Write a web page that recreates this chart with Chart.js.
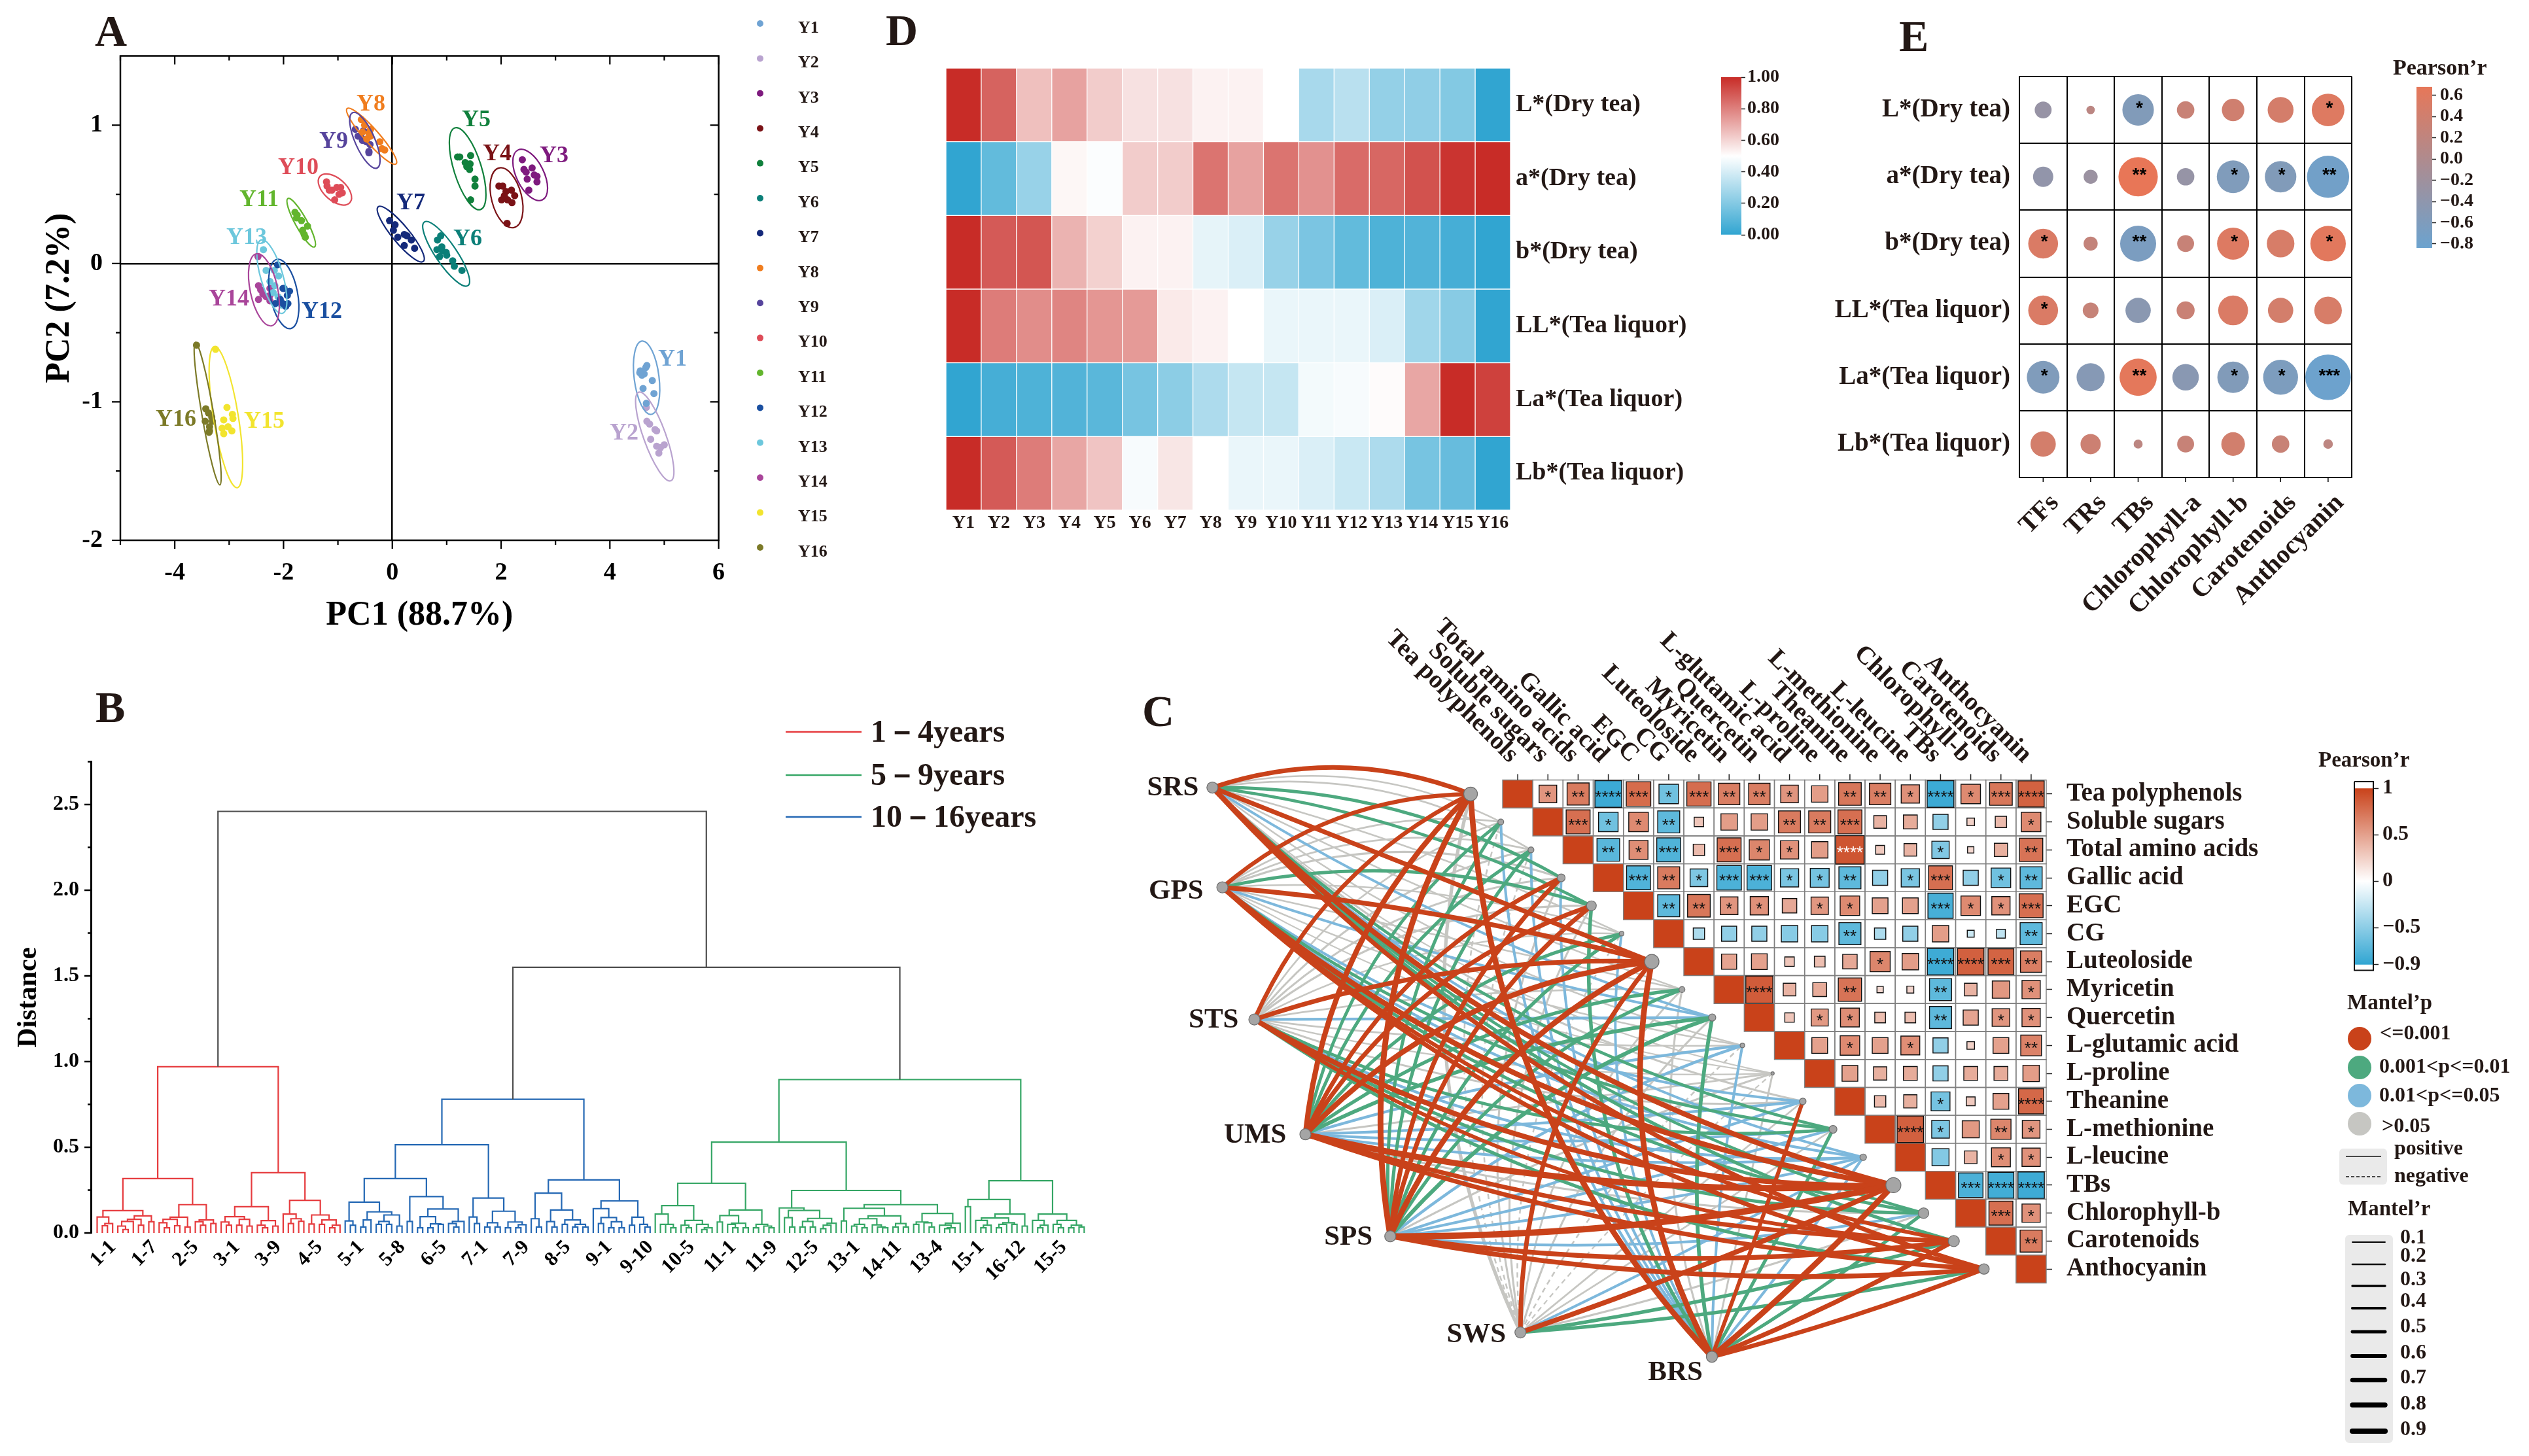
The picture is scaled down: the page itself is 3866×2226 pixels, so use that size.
<!DOCTYPE html>
<html><head><meta charset="utf-8">
<style>html,body{margin:0;background:#fff;width:3866px;height:2226px;overflow:hidden;position:relative}canvas{position:absolute}</style>
<script src="https://cdn.jsdelivr.net/npm/chart.js@4"></script>
</head><body>
<script>
/* ---------- Panel A data (PC1, PC2) ---------- */
const groupNames=['Y1','Y2','Y3','Y4','Y5','Y6','Y7','Y8','Y9','Y10','Y11','Y12','Y13','Y14','Y15','Y16'];
const Y1pts=[[4.56,-.776],[4.66,-.752],[4.68,-.737],[4.63,-.798],[4.59,-.807],[4.55,-.789],[4.78,-.846],[4.61,-.903],[4.81,-.94],[4.67,-1.01]];
const Y2pts=[[4.68,-1.14],[4.73,-1.16],[4.83,-1.2],[4.86,-1.21],[4.75,-1.27],[4.86,-1.32],[4.93,-1.33],[5,-1.31],[4.9,-1.37],[4.67,-1.04]];
const Y3pts=[[2.39,.75],[2.42,.68],[2.46,.66],[2.57,.69],[2.66,.63],[2.61,.64],[2.48,.61],[2.66,.59],[2.51,.53]];
const Y4pts=[[1.96,.56],[2.03,.56],[2.09,.52],[2.19,.53],[2.25,.49],[2.01,.46],[2.12,.46],[2.2,.44],[2.11,.29],[2.06,.49]];
const Y5pts=[[1.2,.77],[1.24,.77],[1.44,.78],[1.34,.73],[1.43,.72],[1.37,.7],[1.42,.68],[1.52,.61],[1.52,.56],[1.44,.46]];
const Y6pts=[[.89,.2],[.83,.17],[.91,.12],[.82,.1],[.92,.09],[.99,.08],[.87,.05],[1,.06],[1.11,.02],[1.14,-.02],[1.28,-.05]];
const Y7pts=[[-.05,.31],[.05,.28],[.02,.24],[.1,.19],[.22,.21],[.27,.2],[.35,.17],[.22,.13],[.41,.11]];
const Y8pts=[[-.57,1.04],[-.51,1],[-.55,.95],[-.43,.94],[-.4,.92],[-.47,.9],[-.23,.88],[-.19,.83],[-.14,.82],[-.4,.97]];
const Y9pts=[[-.68,.97],[-.53,.96],[-.43,.95],[-.58,.92],[-.55,.89],[-.48,.88],[-.41,.86],[-.43,.81],[-.43,.8],[-.63,.92]];
const Y10pts=[[-1.21,.59],[-1.2,.56],[-1.16,.53],[-1.02,.55],[-.95,.55],[-.92,.51],[-.98,.5],[-1.06,.46],[-1.11,.53]];
const Y11pts=[[-1.79,.37],[-1.75,.35],[-1.76,.33],[-1.67,.31],[-1.56,.27],[-1.65,.24],[-1.62,.21],[-1.6,.19]];
const Y12pts=[[-2.11,-.01],[-2.01,-.18],[-1.99,-.18],[-1.89,-.2],[-1.93,-.23],[-2.06,-.26],[-2.15,-.29],[-2.01,-.29],[-1.92,-.29],[-1.96,-.31]];
const Y13pts=[[-2.37,.1],[-2.32,-.05],[-2.17,-.05],[-2.09,-.09],[-2.25,-.13],[-2.16,-.16],[-2.19,-.21],[-2.04,-.3],[-2.1,-.24]];
const Y14pts=[[-2.47,.05],[-2.46,-.16],[-2.42,-.19],[-2.38,-.22],[-2.25,-.18],[-2.25,-.23],[-2.46,-.26],[-2.25,-.27],[-2.32,-.24]];
const Y15pts=[[-3.25,-.62],[-3.04,-1.04],[-3.1,-1.13],[-2.94,-1.09],[-2.93,-1.12],[-3.13,-1.19],[-3.02,-1.18],[-2.95,-1.21],[-3.1,-1.23]];
const Y16pts=[[-3.6,-.59],[-3.43,-1.05],[-3.38,-1.08],[-3.32,-1.11],[-3.44,-1.14],[-3.31,-1.14],[-3.36,-1.18],[-3.37,-1.22],[-3.36,-1.21]];
const groupPoints=[Y1pts,Y2pts,Y3pts,Y4pts,Y5pts,Y6pts,Y7pts,Y8pts,Y9pts,Y10pts,Y11pts,Y12pts,Y13pts,Y14pts,Y15pts,Y16pts];
/* confidence ellipses: major-axis end points in data units */
const ellipseAxes=[[4.59,-.56,4.76,-1.09],[4.53,-.93,5.12,-1.57],[2.31,.82,2.76,.46],[1.96,.69,2.24,.26],[1.15,.98,1.62,.39],[.59,.3,1.39,-.16],[-.26,.41,.57,.015],[-.83,1.12,.07,.72],[-.73,1.09,-.28,.69],[-1.33,.63,-.78,.44],[-1.92,.47,-1.43,.12],[-2.12,.03,-1.87,-.47],[-2.41,.17,-2.02,-.36],[-2.5,.07,-2.22,-.45],[-3.27,-.6,-2.85,-1.62],[-3.62,-.57,-3.17,-1.6]];

/* ---------- Panel B data: merge tree [height,left,right], numbers are leaves ---------- */
const redTree=[.97,[.317,[.13,[.093,0,[.055,[.042,1,2],3]],[.10,[.08,[.067,[.04,4,[.02,5,6]],7],[.045,8,9]],[.065,10,11]]],[.165,[.092,[.08,[.06,12,[.03,13,14]],[.042,15,16]],[.035,17,18]],[.076,[.065,19,[.045,20,21]],[.055,22,23]]]],[.352,[.153,[.095,[.064,24,[.045,25,26]],[.08,[.045,27,28],[.04,29,30]]],[.072,[.045,31,[.03,32,33]],[.04,34,35]]],[.19,[.11,36,[.083,[.055,37,38],[.068,39,40]]],[.105,[.052,41,42],[.076,[.05,43,44],[.045,[.03,45,46],47]]]]]];
const blueTree=[.78,[.515,[.317,[.18,[.07,48,[.045,49,50]],[.123,[.076,[.035,51,52],53],[.105,[.067,[.05,54,55],[.05,56,57]],[.04,58,59]]]],[.212,[.067,60,61],[.14,[.095,[.03,62,63],[.053,[.03,64,65],[.05,66,67]]],[.067,[.055,68,[.035,69,70]],71]]]],[.204,[.093,72,[.055,73,74]],[.127,[.06,[.035,75,76],[.035,77,78]],[.064,[.03,79,80],[.048,[.03,81,82],83]]]]],[.31,[.232,[.083,84,[.035,85,86]],[.134,[.066,87,[.035,88,89]],[.076,[.05,90,91],[.05,[.035,92,93],[.035,94,95]]]]],[.187,[.142,96,[.09,[.055,97,98],[.065,[.03,99,100],[.03,101,102]]]],[.092,[.045,103,104],[.05,105,[.035,106,107]]]]]];
const greenTree=[.895,[.53,[.29,[.16,[.11,108,[.05,[.05,109,110],[.03,111,112]]],[.073,[.045,113,[.03,114,115]],[.05,116,[.03,[.02,117,118],119]]]],[.134,[.102,[.064,120,121],[.057,[.05,122,[.03,123,124]],[.03,125,126]]],[.05,[.03,127,128],[.04,129,[.03,130,131]]]]],[.248,[.146,132,[.131,[.089,133,[.035,134,135]],[.085,[.067,[.035,136,137],[.035,138,139]],[.057,[.045,[.025,140,141],142],143]]]],[.165,[.144,[.07,144,145],[.1,[.083,[.05,[.04,146,147],[.03,148,149]],[.047,150,[.035,151,[.03,152,153]]]],[.055,[.035,154,155],[.035,156,157]]]],[.114,[.064,[.05,158,159],[.06,160,[.035,161,162]]],[.057,[.045,163,[.03,[.025,164,165],166]],167]]]]],[.305,[.195,[.153,168,169],[.11,[.087,[.073,170,[.045,[.03,171,172],173]],[.06,[.05,[.03,174,175],176],[.05,177,178]]],[.04,179,180]]],[.11,[.073,181,[.045,[.03,182,183],184]],[.073,[.05,185,[.03,186,187]],[.045,[.03,188,189],[.035,190,191]]]]]];
const upperHeights=[2.46,1.55];
const dendroLabels=['1-1','1-7','2-5','3-1','3-9','4-5','5-1','5-8','6-5','7-1','7-9','8-5','9-1','9-10','10-5','11-1','11-9','12-5','13-1','14-11','13-4','15-1','16-12','15-5'];

/* ---------- Panel D data ---------- */
const traitLabels=['L*(Dry tea)','a*(Dry tea)','b*(Dry tea)','LL*(Tea liquor)','La*(Tea liquor)','Lb*(Tea liquor)'];
const heatL=[1,.87,.65,.72,.62,.57,.57,.53,.53,.5,.29,.33,.24,.23,.2,0];
const heatA=[0,.12,.25,.52,.49,.62,.62,.83,.72,.83,.76,.85,.86,.91,.98,1];
const heatB=[1,.89,.9,.68,.61,.53,.53,.44,.41,.25,.18,.12,.07,.08,.05,0];
const heatLL=[1,.81,.77,.79,.75,.74,.55,.53,.5,.45,.45,.45,.41,.27,.21,0];
const heatLa=[0,.05,.07,.08,.1,.17,.22,.3,.36,.36,.47,.48,.51,.71,1,.95];
const heatLb=[1,.89,.81,.71,.64,.48,.56,.5,.45,.45,.41,.37,.3,.17,.13,0];
const heatRows=[heatL,heatA,heatB,heatLL,heatLa,heatLb];

/* ---------- Panel E data ---------- */
const pigmentLabels=['TFs','TRs','TBs','Chlorophyll-a','Chlorophyll-b','Carotenoids','Anthocyanin'];
const corrL=[-.3,.15,-.56,.31,.4,.46,.58];
const corrA=[-.36,-.25,.7,-.31,-.58,-.56,-.75];
const corrB=[.53,.25,-.64,.3,.57,.49,.63];
const corrLL=[.53,.28,-.45,.32,.53,.45,.49];
const corrLa=[-.58,-.5,.66,-.47,-.56,-.62,-.81];
const corrLb=[.45,.36,.16,.3,.42,.31,.17];
const corrRows=[corrL,corrA,corrB,corrLL,corrLa,corrLb];
const corrStars=[[0,0,1,0,0,0,1],[0,0,2,0,1,1,2],[1,0,2,0,1,0,1],[1,0,0,0,0,0,0],[1,0,2,0,1,1,3],[0,0,0,0,0,0,0]];

/* ---------- Panel C data ---------- */
const metaboliteLabels=['Tea polyphenols','Soluble sugars','Total amino acids','Gallic acid','EGC','CG','Luteoloside','Myricetin','Quercetin','L-glutamic acid','L-proline','Theanine','L-methionine','L-leucine','TBs','Chlorophyll-b','Carotenoids','Anthocyanin'];
const pearsonRows=[[.56,.7,-.85,.78,-.62,.77,.68,.68,.56,.52,.72,.68,.58,-.85,.62,.72,.83],[.76,-.62,.62,-.7,.3,.52,.52,.7,.7,.76,.4,.44,-.48,.24,.36,.62],[-.72,.6,-.76,.36,.76,.64,.58,.52,.9,.28,.4,-.55,.2,.42,.74],[-.76,.7,-.56,-.78,-.78,-.58,-.6,-.7,-.48,-.58,.76,-.48,-.62,-.7],[-.7,.72,.56,.58,.46,.55,.62,.5,.5,-.8,.62,.58,.76],[-.36,-.48,-.48,-.52,-.52,-.7,-.36,-.48,.52,-.22,-.28,-.7],[.48,.5,.3,.34,.46,.64,.52,-.84,.84,.82,.68],[.86,.4,.44,.74,.2,.22,-.7,.4,.55,.58],[.3,.54,.6,.34,.34,-.7,.48,.56,.58],[.5,.62,.5,.6,-.48,.24,.5,.66],[.5,.42,.44,-.48,.44,.44,.52],[.36,.42,-.6,.28,.5,.8],[.84,-.56,.54,.64,.56],[-.54,.4,.6,.58],[-.78,-.82,-.84],[.76,.58],[.7]];
const pearsonStars=[[1,2,4,3,1,3,2,2,1,0,2,2,1,4,1,3,4],[3,1,1,2,0,0,0,2,2,3,0,0,0,0,0,1],[2,1,3,0,3,1,1,0,4,0,0,1,0,0,2],[3,2,1,3,3,1,1,2,0,1,3,0,1,2],[2,2,1,1,0,1,1,0,0,3,1,1,3],[0,0,0,0,0,2,0,0,0,0,0,2],[0,0,0,0,0,1,0,4,4,3,2],[4,0,0,2,0,0,2,0,0,1],[0,1,1,0,0,2,0,1,1],[0,1,0,1,0,0,0,2],[0,0,0,0,0,0,0],[0,0,1,0,0,4],[4,1,0,2,1],[0,0,1,1],[3,4,4],[3,1],[2]];
const envNames=['SRS','GPS','STS','UMS','SPS','SWS','BRS'];
/* Mantel p class: 0 <=0.001, 1 <=0.01, 2 <=0.05, 3 >0.05 */
const mantelClass=[
[0,3,3,1,1,3,0,3,2,3,3,3,1,2,0,1,1,0],
[0,3,3,3,1,3,0,3,2,3,3,2,1,2,0,1,0,0],
[0,3,3,3,3,3,0,3,2,3,3,3,1,2,0,1,0,1],
[0,1,1,0,0,1,0,1,1,2,3,2,2,2,0,3,0,0],
[0,1,1,0,0,1,0,1,1,2,3,2,2,2,0,2,0,0],
[3,3,3,3,3,3,0,3,3,3,3,3,3,2,0,3,1,1],
[0,2,2,2,1,2,0,3,1,2,3,0,1,2,0,1,0,0]];
const mantelR=[
[.62,.15,.18,.38,.36,.14,.62,.14,.28,.13,.11,.2,.36,.28,.7,.35,.42,.6],
[.55,.16,.18,.22,.4,.14,.65,.14,.28,.14,.1,.3,.36,.3,.72,.38,.5,.6],
[.55,.15,.2,.2,.22,.14,.62,.15,.3,.14,.1,.18,.38,.3,.68,.38,.5,.42],
[.72,.38,.4,.58,.6,.42,.72,.42,.5,.33,.18,.32,.3,.28,.85,.2,.6,.6],
[.8,.4,.42,.6,.6,.42,.75,.42,.52,.33,.2,.32,.3,.3,.88,.3,.65,.65],
[.42,.14,.14,.2,.2,.13,.6,.18,.2,.14,.1,.16,.16,.3,.66,.2,.45,.45],
[.78,.3,.3,.3,.45,.28,.78,.2,.48,.3,.18,.5,.42,.3,.8,.42,.62,.6]];
const mantelNegativeSWS=[1,2,5,9,10];
const mantelRLegend=[.1,.2,.3,.4,.5,.6,.7,.8,.9];

/* ---------- styles and layout ---------- */
const SERIF='"Liberation Serif"', INK='#231815';
const groupColors=['#6FA3D3','#B9A3CF','#7E1A7E','#7A1216','#10803C','#0B7F78','#14297A','#F07D1E','#56449C','#DE4C58','#62B52D','#1A4FA0','#6CC7DC','#A9459A','#F2E42E','#7C7A28'];
const ellipseHalfWidths=[19,17,21,23,21,16,13,11,15,17,9,21,17,21,19,9];
const groupLabelAt=[[1028,550],[954,663],[847,239],[760,236],[728,184],[715,366],[628,311],[567,160],[510,217],[456,257],[396,306],[492,477],[377,364],[350,458],[404,645],[269,642]];
const envAnchor=[[-10.11,-.23],[-9.78,3.34],[-8.72,8.07],[-7.03,12.18],[-4.22,15.83],[.09,19.27],[6.43,20.14]];
const envLabelOffset=[[-21,1],[-29,6],[-24,1],[-29,2],[-27,2],[-22,4],[-14,25]];
const envFanMiddle=[6,7,8,10,11,11,10];
const envRightBend=[.14,.14,.14,.07,.07,.03,.03];
const diagNodeRadius=[10.5,4.5,4.5,6,7.5,3.5,11,4.5,5.5,3.5,2.5,5,6,5,11.5,8,8.5,8];
const mantelColors=['#C9421A','#4DA97F','#7DB8DC','#C6C6C2'];
const HEAT_BLUE=[49,165,209],HEAT_RED=[200,44,39];
const COR_BLUE=[107,163,207],COR_RED=[230,119,89];
const PEAR_BLUE=[48,165,210],PEAR_RED=[201,66,26],WHITE=[255,255,255];
const mix=(a,b,t)=>`rgb(${a.map((v,i)=>Math.round(v+(b[i]-v)*t)).join(',')})`;
const heatColor=v=>v>=.5?mix(WHITE,HEAT_RED,(v-.5)/.5):mix(WHITE,HEAT_BLUE,(.5-v)/.5);
const corColor=v=>mix(COR_BLUE,COR_RED,(v+.837)/1.517);
const pearColor=v=>v>=0?mix(WHITE,PEAR_RED,v):mix(WHITE,PEAR_BLUE,-v/.9);

Chart.defaults.font.family=SERIF;Chart.defaults.font.weight='bold';Chart.defaults.color=INK;

function padFor(box,plot,axes){axes=axes||{};return{left:plot.l-box.x-(axes.left||0),right:box.x+box.w-plot.r-(axes.right||0),top:plot.t-box.y-(axes.top||0),bottom:box.y+box.h-plot.b-(axes.bottom||0)};}
const fitW=w=>s=>{s.width=w;},fitH=h=>s=>{s.height=h;};
let pluginSeq=0;
function label(g,t,x,y,size,o){o=o||{};g.save();g.font=`bold ${size}px ${SERIF}`;g.fillStyle=o.color||INK;g.textAlign=o.align||'left';g.textBaseline=o.base||'middle';g.translate(x,y);if(o.rot)g.rotate(o.rot);g.fillText(t,0,0);g.restore();}
function stroke(g,c,w,f){g.save();g.strokeStyle=c;g.lineWidth=w;g.beginPath();f();g.stroke();g.restore();}
function mount(box,config,after,before){
  const c=document.createElement('canvas');c.width=box.w;c.height=box.h;c.style.left=box.x+'px';c.style.top=box.y+'px';c.style.width=box.w+'px';c.style.height=box.h+'px';document.body.appendChild(c);
  config.options=Object.assign({responsive:false,animation:false,devicePixelRatio:1,events:[]},config.options);
  config.options.plugins=Object.assign({legend:{display:false},tooltip:{enabled:false}},config.options.plugins);
  config.plugins=[{id:'panel'+(pluginSeq++),beforeDatasetsDraw(ch){if(before){ch.ctx.save();ch.ctx.translate(-box.x,-box.y);before(ch,ch.ctx);ch.ctx.restore();}},afterDraw(ch){if(after){ch.ctx.save();ch.ctx.translate(-box.x,-box.y);after(ch,ch.ctx,box);ch.ctx.restore();}}}];
  return new Chart(c,config);
}
function scaleX(ch,box,v){return ch.scales.x.getPixelForValue(v)+box.x;}
function scaleY(ch,box,v,id){return ch.scales[id||'y'].getPixelForValue(v)+box.y;}
function colorbar(box,plot,min,max,ticks,fmt,stops,size,tickLen,pad,framed){
  const rw=box.x+box.w-plot.r;
  mount(box,{type:'bar',data:{labels:[''],datasets:[{data:[[min,max]],barPercentage:1,categoryPercentage:1,borderWidth:0,
    backgroundColor(ctx){const a=ctx.chart.chartArea;if(!a)return '#ccc';const g=ctx.chart.ctx.createLinearGradient(0,a.bottom,0,a.top);stops.forEach(s=>g.addColorStop(s[0],s[1]));return g;}}]},
    options:{layout:{padding:padFor(box,plot,{right:rw-2})},scales:{x:{display:false},y:{position:'right',min,max,afterFit:fitW(rw-2),afterBuildTicks(s){s.ticks=ticks.map(v=>({value:v}));},
      ticks:{callback:fmt,font:{size},padding:pad,autoSkip:false,color:INK},grid:{drawOnChartArea:false,tickLength:tickLen,tickColor:'#222',tickWidth:1.5},border:{display:false}}}}},
    framed?(ch,g)=>stroke(g,'#111',2,()=>{g.moveTo(plot.l,plot.t);g.lineTo(plot.l,plot.b);g.lineTo(plot.r,plot.b);g.lineTo(plot.r,plot.t);g.lineTo(plot.l,plot.t);}):null);
}

/* ---------- Panel A ---------- */
(function(){
  const box={x:0,y:0,w:1320,h:1000},plot={l:184,r:1098.6,t:85.5,b:826};
  mount(box,{type:'scatter',data:{datasets:groupPoints.map((p,i)=>({label:groupNames[i],data:p.map(q=>({x:q[0],y:q[1]})),backgroundColor:groupColors[i],pointRadius:5.5,borderWidth:0}))},
    options:{layout:{padding:padFor(box,plot,{left:124,bottom:151})},scales:{
      x:{min:-5,max:6,afterFit:fitH(151),afterBuildTicks(s){const t=[];for(let v=-5;v<=6;v++)t.push({value:v});s.ticks=t;},
         ticks:{autoSkip:false,maxRotation:0,callback:v=>(v%2===0?String(v):''),font:{size:38},color:'#000',padding:14},
         grid:{color:c=>c.tick&&c.tick.value===0?'#000':'transparent',lineWidth:2.5,tickLength:13,tickColor:'transparent'},border:{display:false},
         title:{display:true,text:'PC1 (88.7%)',font:{size:52},color:'#000',padding:{top:0,bottom:4}}},
      y:{min:-2,max:1.5,afterFit:fitW(124),afterBuildTicks(s){const t=[];for(let i=0;i<7;i++)t.push({value:-2+i*.5});s.ticks=t;},
         ticks:{autoSkip:false,callback:v=>(v===1.5?'':Number.isInteger(v)?String(v):''),font:{size:38},color:'#000',padding:14},
         grid:{color:c=>c.tick&&c.tick.value===0?'#000':'transparent',lineWidth:2.5,tickLength:13,tickColor:'transparent'},border:{display:false},
         title:{display:true,text:'PC2 (7.2%)',font:{size:52},color:'#000',padding:{top:0,bottom:0}}}}}},
  (ch,g,b)=>{
    const X=v=>scaleX(ch,b,v),Y=v=>scaleY(ch,b,v),a=ch.chartArea,l=a.left,r=a.right,t=a.top,bt=a.bottom;
    ellipseAxes.forEach((e,i)=>{const x1=X(e[0]),y1=Y(e[1]),x2=X(e[2]),y2=Y(e[3]);stroke(g,groupColors[i],2.2,()=>g.ellipse((x1+x2)/2,(y1+y2)/2,Math.hypot(x2-x1,y2-y1)/2,ellipseHalfWidths[i],Math.atan2(y2-y1,x2-x1),0,Math.PI*2));
      label(g,groupNames[i],groupLabelAt[i][0],groupLabelAt[i][1],36,{color:groupColors[i],align:'center'});});
    stroke(g,'#000',2.5,()=>g.rect(l,t,r-l,bt-t));
    stroke(g,'#000',2.2,()=>{for(let v=-5;v<=6;v++){const x=X(v),n=v%2===0?13:7;g.moveTo(x,bt);g.lineTo(x,bt+n);g.moveTo(x,t);g.lineTo(x,t+n);}
      for(let i=0;i<7;i++){const v=-2+i*.5,y=Y(v),n=Number.isInteger(v)?13:7;g.moveTo(l,y);g.lineTo(l-n,y);g.moveTo(r,y);g.lineTo(r-n,y);}});
    groupNames.forEach((n,i)=>{g.fillStyle=groupColors[i];g.beginPath();g.arc(1162,36+53.4*i,5,0,7);g.fill();label(g,n,1220,43+53.4*i,26);});
    label(g,'A',145,70,68,{base:'alphabetic'});
  });
})();

/* ---------- Panel B ---------- */
(function(){
  const box={x:0,y:1000,w:1720,h:1000},plot={l:139,r:1679.5,t:1164.5,b:1885};
  function walk(n,out){if(typeof n==='number')return{x:n,y:0};const a=walk(n[1],out),b=walk(n[2],out);out.push({x:a.x,y:a.y},{x:a.x,y:n[0]},{x:b.x,y:n[0]},{x:b.x,y:b.y},{x:null,y:null});return{x:(a.x+b.x)/2,y:n[0]};}
  const red=[],blue=[],green=[],grey=[];
  const rt=walk(redTree,red),bt=walk(blueTree,blue),gt=walk(greenTree,green);
  const mx=(bt.x+gt.x)/2;
  grey.push({x:bt.x,y:bt.y},{x:bt.x,y:upperHeights[1]},{x:gt.x,y:upperHeights[1]},{x:gt.x,y:gt.y},{x:null,y:null});
  grey.push({x:rt.x,y:rt.y},{x:rt.x,y:upperHeights[0]},{x:mx,y:upperHeights[0]},{x:mx,y:upperHeights[1]});
  const ds=(d,c)=>({data:d,borderColor:c,borderWidth:2.2,showLine:true,pointRadius:0,spanGaps:false,tension:0,clip:false});
  mount(box,{type:'scatter',data:{datasets:[ds(grey,'#4f4f4f'),ds(red,'#E63B3E'),ds(blue,'#2468B4'),ds(green,'#35A665')]},
    options:{layout:{padding:padFor(box,plot,{left:122,bottom:105})},scales:{
      x:{min:-1.2,max:193.8,afterFit:fitH(105),afterBuildTicks(s){s.ticks=dendroLabels.map((_,i)=>({value:i*8}));},
        ticks:{autoSkip:false,minRotation:45,maxRotation:45,labelOffset:24,padding:4,font:{size:31},color:'#000',callback:v=>dendroLabels[v/8]},
        grid:{display:false,drawTicks:false},border:{display:false}},
      y:{min:0,max:2.75,afterFit:fitW(122),afterBuildTicks(s){const t=[];for(let i=0;i<=11;i++)t.push({value:i*.25});s.ticks=t;},
        ticks:{autoSkip:false,callback:v=>(v*2%1===0?v.toFixed(1):''),font:{size:32},color:'#000',padding:8},
        grid:{drawOnChartArea:false,tickLength:10,tickColor:'transparent'},border:{color:'#000',width:3},
        title:{display:true,text:'Distance',font:{size:42},color:'#000',padding:{top:2,bottom:0}}}}}},
  (ch,g,b)=>{
    const Y=v=>scaleY(ch,b,v),l=ch.chartArea.left;
    stroke(g,'#000',2.5,()=>{for(let i=0;i<=11;i++){const v=i*.25,y=Y(v),n=i%2===0?10:5;g.moveTo(l,y);g.lineTo(l-n,y);}});
    [['#E63B3E','1－4years',1119],['#35A665','5－9years',1185],['#2468B4','10－16years',1249]].forEach(r=>{stroke(g,r[0],2.5,()=>{g.moveTo(1201,r[2]);g.lineTo(1317,r[2]);});label(g,r[1],1331,r[2]+3,48);});
    label(g,'B',146,1104,68,{base:'alphabetic'});
  });
})();

/* ---------- Panel D ---------- */
(function(){
  const box={x:1300,y:0,w:1320,h:880},plot={l:1446,r:2309,t:104,b:780};
  mount(box,{type:'bar',data:{labels:groupNames,datasets:traitLabels.map((n,i)=>({label:n,data:groupNames.map(()=>1),backgroundColor:heatRows[i].map(heatColor),borderColor:'#fff',borderWidth:1,borderSkipped:false,barPercentage:1,categoryPercentage:1}))},
    options:{layout:{padding:padFor(box,plot,{right:300,bottom:60})},scales:{
      x:{stacked:true,afterFit:fitH(60),ticks:{autoSkip:false,maxRotation:0,font:{size:28},padding:3,color:INK},grid:{display:false,drawTicks:false},border:{display:false}},
      y:{stacked:true,min:0,max:6,reverse:true,position:'right',afterFit:fitW(300),afterBuildTicks(s){s.ticks=traitLabels.map((_,i)=>({value:i+.5}));},
        ticks:{autoSkip:false,callback:v=>traitLabels[Math.floor(v)],font:{size:38},padding:8,color:INK},grid:{display:false,drawTicks:false},border:{display:false}}}}},
  (ch,g)=>label(g,'D',1354,69,68,{base:'alphabetic'}));
  colorbar({x:2600,y:90,w:160,h:300},{l:2631,r:2662,t:118,b:359},0,1,[0,.2,.4,.6,.8,1],v=>v.toFixed(2),[[0,'rgb(49,165,209)'],[.5,'#fff'],[1,'rgb(200,44,39)']],28,6,3);
})();

/* ---------- Panel E ---------- */
(function(){
  const box={x:2650,y:0,w:980,h:1000},plot={l:3087,r:3597,t:117,b:730};
  const pts=[];corrRows.forEach((row,i)=>row.forEach((v,j)=>pts.push({x:pigmentLabels[j],y:traitLabels[i],r:43*Math.abs(v),v})));
  mount(box,{type:'bubble',data:{datasets:[{data:pts,backgroundColor:c=>corColor(c.raw.v),borderWidth:0}]},
    options:{layout:{padding:padFor(box,plot,{left:430,bottom:260})},scales:{
      x:{type:'category',labels:pigmentLabels,offset:true,afterFit:fitH(260),ticks:{autoSkip:false,minRotation:45,maxRotation:45,labelOffset:18,padding:16,font:{size:40},color:INK},grid:{offset:true,color:'#000',lineWidth:2,drawTicks:false},border:{color:'#000',width:2}},
      y:{type:'category',labels:traitLabels,offset:true,afterFit:fitW(430),ticks:{autoSkip:false,padding:14,font:{size:39},color:INK},grid:{offset:true,color:'#000',lineWidth:2,drawTicks:false},border:{color:'#000',width:2}}}}},
  (ch,g,b)=>{
    const a=ch.chartArea,l=a.left,r=a.right,t=a.top,bt=a.bottom;
    stroke(g,'#000',2.2,()=>g.rect(l,t,r-l,bt-t));
    stroke(g,'#000',1.5,()=>{pigmentLabels.forEach((_,j)=>{const x=ch.scales.x.getPixelForValue(j)+b.x;g.moveTo(x,bt);g.lineTo(x,bt+7);});traitLabels.forEach((_,i)=>{const y=ch.scales.y.getPixelForValue(i)+b.y;g.moveTo(l,y);g.lineTo(l-7,y);});});
    g.save();g.font='bold 28px "Liberation Sans"';g.fillStyle='#000';g.textAlign='center';g.textBaseline='alphabetic';
    corrStars.forEach((row,i)=>row.forEach((n,j)=>{if(n)g.fillText('*'.repeat(n),ch.scales.x.getPixelForValue(j)+b.x+2,ch.scales.y.getPixelForValue(i)+b.y-10+16);}));
    g.restore();
    label(g,'E',2903,78,68,{base:'alphabetic'});
  });
  colorbar({x:3660,y:110,w:200,h:300},{l:3694,r:3718,t:131,b:379},-.837,.68,[-.8,-.6,-.4,-.2,0,.2,.4,.6],v=>(v<0?'−':'')+Math.abs(v).toFixed(1),[[0,'rgb(107,163,207)'],[1,'rgb(230,119,89)']],28,6,6);
  mount({x:3640,y:80,w:200,h:50},{type:'scatter',data:{datasets:[]},options:{scales:{x:{display:false},y:{display:false}}}},(ch,g)=>label(g,"Pearson’r",3658,105,34));
})();

/* ---------- Panel C ---------- */
(function(){
  const box={x:1700,y:930,w:2166,h:1296},plot={l:2297,r:3128,t:1192.5,b:1961.5};
  const cells=[],n=metaboliteLabels.length;
  pearsonRows.forEach((row,i)=>row.forEach((v,k)=>cells.push({x:i+1+k,y:i,v,s:pearsonStars[i][k]})));
  mount(box,{type:'scatter',data:{datasets:[{data:cells,pointStyle:'rect',pointRadius:c=>34*Math.abs(c.raw.v),backgroundColor:c=>pearColor(c.raw.v),borderColor:'#111',borderWidth:1.4}]},
    options:{layout:{padding:padFor(box,plot,{right:420})},scales:{
      x:{min:-.5,max:n-.5,display:false},
      y:{position:'right',min:-.5,max:n-.5,reverse:true,afterFit:fitW(420),afterBuildTicks(s){s.ticks=metaboliteLabels.map((_,i)=>({value:i}));},
        ticks:{autoSkip:false,callback:v=>metaboliteLabels[v],font:{size:39},padding:22,color:INK},grid:{drawOnChartArea:false,tickLength:9,tickColor:'#222',tickWidth:1.5},border:{display:false}}}}},
  (ch,g,b)=>{
    const X=v=>scaleX(ch,b,v),Y=v=>scaleY(ch,b,v);
    g.save();g.font='26px "Liberation Sans"';g.textAlign='center';g.textBaseline='alphabetic';
    cells.forEach(c=>{if(c.s){g.fillStyle=c.v>=.9?'#fff':'#111';g.fillText('*'.repeat(c.s),X(c.x),Y(c.y)+13);}});g.restore();
    const node=(x,y,r)=>{g.fillStyle='#A5A5A5';g.strokeStyle='#6e6e6e';g.lineWidth=1.2;g.beginPath();g.arc(x,y,r,0,7);g.fill();g.stroke();};
    diagNodeRadius.forEach((r,i)=>node(X(i-1.56),Y(i),r));
    envNames.forEach((nm,e)=>{const x=X(envAnchor[e][0]),y=Y(envAnchor[e][1]);node(x,y,8.5);label(g,nm,x+envLabelOffset[e][0],y+envLabelOffset[e][1],43,{align:'right'});});
    stroke(g,'#222',1.5,()=>{for(let j=0;j<n;j++){const x=X(j);g.moveTo(x,plot.t-9);g.lineTo(x,plot.t);}});
    metaboliteLabels.forEach((t,j)=>label(g,t,X(j)-6,1160,39,{align:'right',rot:Math.PI/4}));
    label(g,'C',1746,1110,68,{base:'alphabetic'});
    label(g,"Pearson’r",3544,1163,33);
    label(g,"Mantel’p",3588,1534,33);
    const pt=[['<=0.001',3638,1581,1588],['0.001<p<=0.01',3637,1632,1632],['0.01<p<=0.05',3637,1676,1675],['>0.05',3641,1723,1718]];
    pt.forEach((r,i)=>{g.fillStyle=mantelColors[i];g.beginPath();g.arc(3607,r[3],18,0,7);g.fill();label(g,r[0],r[1],r[2],32);});
    g.fillStyle='#EAEAEA';g.beginPath();g.roundRect(3576,1756,73,55,6);g.fill();
    stroke(g,'#111',1.6,()=>{g.moveTo(3586,1768);g.lineTo(3640,1768);});
    g.save();g.setLineDash([5,3]);stroke(g,'#111',1.6,()=>{g.moveTo(3586,1799);g.lineTo(3640,1799);});g.restore();
    label(g,'positive',3660,1757,32);label(g,'negative',3660,1799,32);
    label(g,"Mantel’r",3589,1849,33);
    g.fillStyle='#EAEAEA';g.beginPath();g.roundRect(3585,1888,73,318,6);g.fill();
    const ly=[1899,1933,1966,2000,2036,2073,2110,2148,2188],ty=[1893,1921,1957,1990,2029,2069,2107,2147,2186];
    mantelRLegend.forEach((r,i)=>{stroke(g,'#000',1+8*r,()=>{g.lineCap='round';g.moveTo(3596,ly[i]);g.lineTo(3646,ly[i]);});label(g,r.toFixed(1),3669,ty[i],32);});
  },
  (ch,g)=>{
    const b=box,X=v=>scaleX(ch,b,v),Y=v=>scaleY(ch,b,v),cw=X(1)-X(0),ch2=Y(1)-Y(0);
    for(let i=0;i<n;i++){
      g.fillStyle='#C9421A';g.fillRect(X(i)-cw/2,Y(i)-ch2/2,cw,ch2);
      for(let j=i;j<n;j++){stroke(g,'#7f7f7f',1.4,()=>g.rect(X(j)-cw/2,Y(i)-ch2/2,cw,ch2));}
    }
    [3,2,1,0].forEach(cls=>{
      envNames.forEach((_,e)=>metaboliteLabels.forEach((_,m)=>{
        if(mantelClass[e][m]!==cls)return;
        const x0=X(envAnchor[e][0]),y0=Y(envAnchor[e][1]),x1=X(m-1.56),y1=Y(m),dx=x1-x0,dy=y1-y0;
        const t=(envFanMiddle[e]-m)/4,bend=t>=0?.18*Math.min(1,t):envRightBend[e]*Math.max(-1,t);
        const cx=(x0+x1)/2+bend*dy,cy=(y0+y1)/2-bend*dx;
        g.save();if(e===5&&mantelNegativeSWS.includes(m))g.setLineDash([8,6]);
        stroke(g,mantelColors[cls],1.2+9.5*mantelR[e][m],()=>{g.moveTo(x0,y0);g.quadraticCurveTo(cx,cy,x1,y1);});
        g.restore();
      }));
    });
  });
  colorbar({x:3570,y:1180,w:200,h:320},{l:3599,r:3628,t:1195,b:1483.5},-.9,1,[-.9,-.5,0,.5,1],v=>(v<0?'−':'')+String(Math.abs(v)),[[0,'rgb(48,165,210)'],[.4737,'#fff'],[1,'rgb(201,66,26)']],32,8,6,true);
})();
</script>
</body></html>
